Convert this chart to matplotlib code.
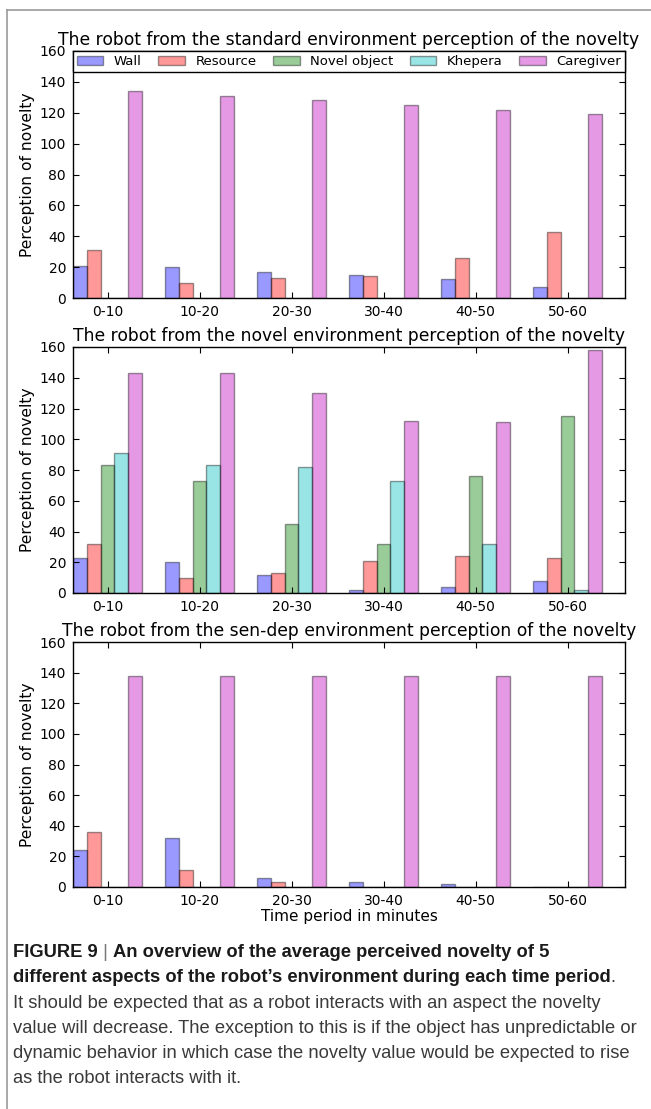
import numpy as np
from matplotlib import pyplot as plt
from matplotlib.lines import Line2D

plt.rcParams['font.family'] = ['DejaVu Sans']

periods = ['0-10', '10-20', '20-30', '30-40', '40-50', '50-60']
aspects = ['Wall', 'Resource', 'Novel object', 'Khepera', 'Caregiver']
aspect_colors = ['b', 'r', 'g', 'c', 'm']

# standard environment
wall_std = [21, 20, 17, 15, 12, 7]
resource_std = [31, 10, 13, 14, 26, 43]
novel_std = [0, 0, 0, 0, 0, 0]
khepera_std = [0, 0, 0, 0, 0, 0]
caregiver_std = [134, 131, 128, 125, 122, 119]

# novel environment
wall_nov = [23, 20, 12, 2, 4, 8]
resource_nov = [32, 10, 13, 21, 24, 23]
novel_nov = [83, 73, 45, 32, 76, 115]
khepera_nov = [91, 83, 82, 73, 32, 2]
caregiver_nov = [143, 143, 130, 112, 111, 158]

# sensory-deprived environment
wall_sd = [24, 32, 6, 3, 2, 0]
resource_sd = [36, 11, 3, 0, 0, 0]
novel_sd = [0, 0, 0, 0, 0, 0]
khepera_sd = [0, 0, 0, 0, 0, 0]
caregiver_sd = [138, 138, 138, 138, 138, 138]

W, H = 651, 1109
BAR_W = 0.15


def px_axes(fig, left, top, right, bottom):
    # axes placed from pixel edges (origin at top left)
    return fig.add_axes([left / W, 1 - bottom / H, (right - left) / W, (bottom - top) / H])


def draw_panel(ax, title, series, legend=False, xlabel=None):
    x = np.arange(len(periods))
    for k, (name, values, color) in enumerate(zip(aspects, series, aspect_colors)):
        ax.bar(x + k * BAR_W, values, BAR_W, align='edge', color=color, alpha=0.4,
               edgecolor='k', linewidth=1, label=name)
    ax.set_xlim(0, len(periods))
    ax.set_ylim(0, 160)
    ax.set_xticks(x + 2.5 * BAR_W)
    ax.set_xticklabels(periods)
    ax.set_yticks(range(0, 161, 20))
    ax.tick_params(direction='in', top=True, right=True, length=4, width=0.8,
                   labelsize=10, pad=5)
    for spine in ax.spines.values():
        spine.set_linewidth(1)
    ax.set_ylabel('Perception of novelty', fontsize=11.2, labelpad=3)
    ax.set_title(title, fontsize=12.3, pad=4)
    if xlabel:
        ax.set_xlabel(xlabel, fontsize=11, labelpad=1)
    if legend:
        ax.legend(loc='upper center', bbox_to_anchor=(0, 0, 1, 1), mode='expand', ncol=5,
                  fontsize=9.5, borderaxespad=0, fancybox=False, framealpha=1,
                  edgecolor='k', handlelength=2.0, borderpad=0.3)


fig = plt.figure(figsize=(W / 100, H / 100), dpi=100)

ax1 = px_axes(fig, 73, 51, 625, 298)
draw_panel(ax1, 'The robot from the standard environment perception of the novelty',
           [wall_std, resource_std, novel_std, khepera_std, caregiver_std], legend=True)

ax2 = px_axes(fig, 73, 347, 625, 593)
draw_panel(ax2, 'The robot from the novel environment perception of the novelty',
           [wall_nov, resource_nov, novel_nov, khepera_nov, caregiver_nov])

ax3 = px_axes(fig, 73, 642, 625, 887)
draw_panel(ax3, 'The robot from the sen-dep environment perception of the novelty',
           [wall_sd, resource_sd, novel_sd, khepera_sd, caregiver_sd],
           xlabel='Time period in minutes')

# thin frame around the figure panel
frame_kw = dict(color='#9a9a9a', linewidth=1.2)
fig.add_artist(Line2D([7 / W, 1], [1 - 10 / H, 1 - 10 / H], **frame_kw))
fig.add_artist(Line2D([7 / W, 7 / W], [1 - 10 / H, 0], **frame_kw))

# caption
cap = fig.add_axes([0, 0, 1, 1])
cap.axis('off')
cap.set_xlim(0, W)
cap.set_ylim(H, 0)
cap_font = dict(family=['Liberation Sans', 'DejaVu Sans'], fontsize=13.2)
bold = dict(cap_font, weight='bold', color='#1a1a1a')
plain = dict(cap_font, color='#3a3a3a')

x0 = 13
line_y = [957, 982, 1008, 1033, 1058, 1083]

t = cap.text(x0, line_y[0], 'FIGURE 9', va='baseline', **bold)
t = cap.annotate(' | ', xy=(1, 0), xycoords=t, va='bottom', **dict(plain, color='#777777'))
cap.annotate('An overview of the average perceived novelty of 5', xy=(1, 0), xycoords=t,
             va='bottom', **bold)

t = cap.text(x0, line_y[1], 'different aspects of the robot\u2019s environment during each time period',
             va='baseline', **bold)
cap.annotate('.', xy=(1, 0), xycoords=t, va='bottom', **plain)

body = [
    'It should be expected that as a robot interacts with an aspect the novelty',
    'value will decrease. The exception to this is if the object has unpredictable or',
    'dynamic behavior in which case the novelty value would be expected to rise',
    'as the robot interacts with it.',
]
for y, line in zip(line_y[2:], body):
    cap.text(x0, y, line, va='baseline', **plain)

fig.savefig('out.png', dpi=100)
